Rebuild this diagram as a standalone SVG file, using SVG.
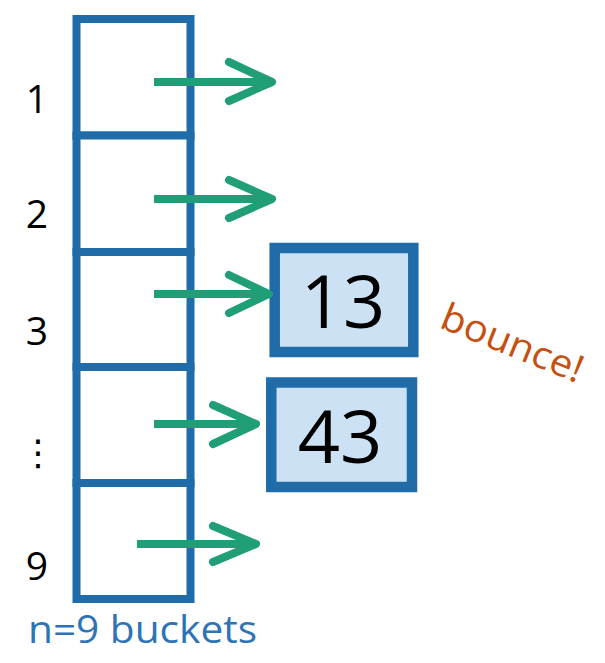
<svg xmlns="http://www.w3.org/2000/svg" width="605" height="663" viewBox="0 0 605 663">
  <defs>
    <style>
      .bucket { fill: #ffffff; stroke: #1f6ca9; stroke-width: 8; }
      .item { fill: #cce2f4; stroke: #1f6ca9; stroke-width: 10.5; }
      .arrow { fill: none; stroke: #1f9e78; stroke-width: 8; stroke-linecap: round; stroke-linejoin: round; }
      .shaft { fill: none; stroke: #1f9e78; stroke-width: 8; }
      .idx { font-family: "Open Sans", "Liberation Sans", sans-serif; font-size: 39px; fill: #000000; text-anchor: middle; }
      .val { font-family: "Open Sans", "Liberation Sans", sans-serif; font-size: 74px; fill: #000000; text-anchor: middle; }
      .cap { font-family: "Open Sans", "Liberation Sans", sans-serif; font-size: 38px; fill: #2e74b5; }
      .note { font-family: "Open Sans", "Liberation Sans", sans-serif; font-size: 38px; fill: #c5500f; }
      .dot { fill: #000000; }
    </style>
  </defs>

  <!-- hash table buckets -->
  <g id="bucket-1"><rect class="bucket" x="76.5" y="19" width="114" height="116.5"/></g>
  <g id="bucket-2"><rect class="bucket" x="76.5" y="135.5" width="114" height="116.5"/></g>
  <g id="bucket-3"><rect class="bucket" x="76.5" y="252" width="114" height="115"/></g>
  <g id="bucket-4"><rect class="bucket" x="76.5" y="367" width="114" height="116"/></g>
  <g id="bucket-5"><rect class="bucket" x="76.5" y="483" width="114" height="116"/></g>

  <!-- bucket indices -->
  <g id="labels">
    <text class="idx" x="37" y="113">1</text>
    <text class="idx" x="37" y="228">2</text>
    <text class="idx" x="37" y="345">3</text>
    <text class="idx" x="38" y="465" style="font-family: 'DejaVu Sans', sans-serif; font-size: 36px;">⋮</text>
    <text class="idx" x="37" y="580">9</text>
  </g>

  <!-- stored items -->
  <g id="item-13">
    <rect class="item" x="274.7" y="248" width="138.6" height="104"/>
    <text class="val" x="343" y="328">13</text>
  </g>
  <g id="item-43">
    <rect class="item" x="271.3" y="382.5" width="140.7" height="104.5"/>
    <text class="val" x="340" y="463">43</text>
  </g>

  <!-- pointers -->
  <g id="connectors">
    <line class="shaft" x1="154" y1="82" x2="270" y2="82"/>
    <polyline class="arrow" points="229,62 272,82 229,101"/>
    <line class="shaft" x1="154" y1="199" x2="270" y2="199"/>
    <polyline class="arrow" points="229,180 272,199 229,218"/>
    <line class="shaft" x1="154" y1="294" x2="267" y2="294"/>
    <polyline class="arrow" points="229,275 269,294 229,313"/>
    <line class="shaft" x1="154" y1="424" x2="254" y2="424"/>
    <polyline class="arrow" points="213,405 256,424 213,444"/>
    <line class="shaft" x1="137" y1="544" x2="254" y2="544"/>
    <polyline class="arrow" points="213,526 256,544 213,562"/>
  </g>

  <g id="caption">
    <text class="cap" x="28" y="643" textLength="229" lengthAdjust="spacingAndGlyphs">n=9 buckets</text>
  </g>

  <g id="note">
    <text class="note" transform="translate(438,327) rotate(22)" textLength="150" lengthAdjust="spacingAndGlyphs">bounce!</text>
  </g>
</svg>
